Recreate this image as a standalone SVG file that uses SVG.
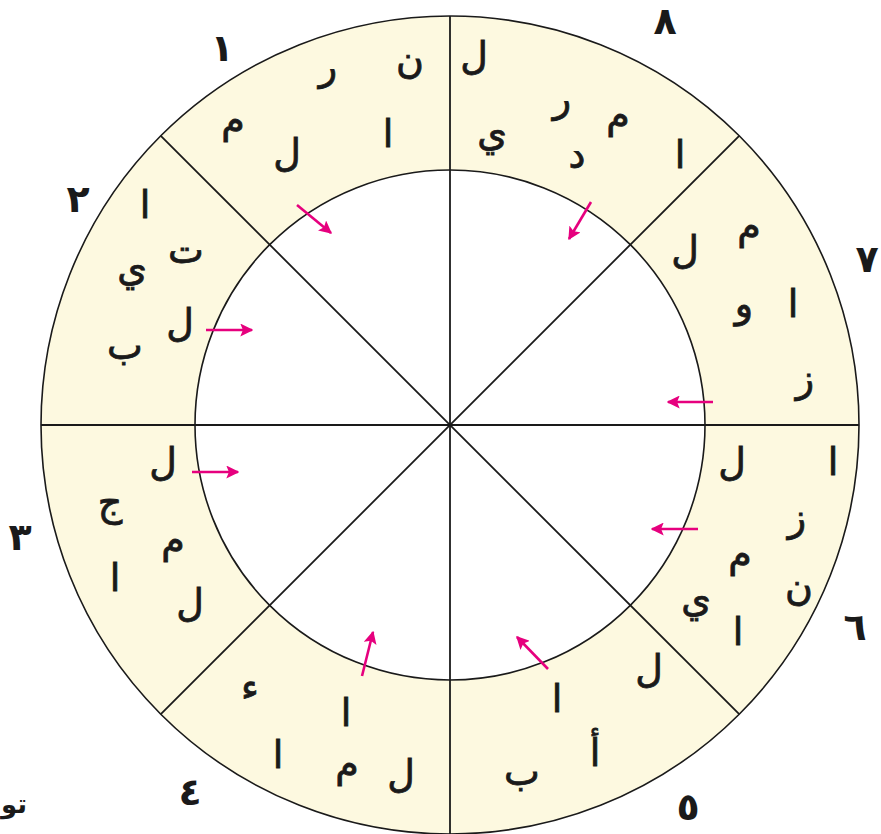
<svg xmlns="http://www.w3.org/2000/svg" width="881" height="834" viewBox="0 0 881 834">
<defs>
<marker id="ah" viewBox="0 0 10 10" refX="9" refY="5" markerWidth="5" markerHeight="5" orient="auto" markerUnits="strokeWidth">
<path d="M0,0 L10,5 L0,10 L2,5 Z" fill="#e6007e"/>
</marker>
<style>
.ring{fill:#fdf9e0;fill-rule:evenodd;stroke:#1a1a1a;stroke-width:1.6}
.div{stroke:#1a1a1a;stroke-width:1.8;fill:none}
.arr{stroke:#e6007e;stroke-width:2.6;fill:none;marker-end:url(#ah)}
.l{font-family:"DejaVu Sans",sans-serif;font-size:38px;font-weight:normal;fill:#1a1a1a;text-anchor:middle;stroke:#1a1a1a;stroke-width:0.8}
.n{font-family:"DejaVu Sans",sans-serif;font-size:38px;font-weight:bold;fill:#1a1a1a;text-anchor:middle}
</style>
</defs>
<rect width="881" height="834" fill="#ffffff"/>
<g id="ring">
<path class="ring" d="M41,425 A409,409 0 1,0 859,425 A409,409 0 1,0 41,425 Z M195,425 A255,255 0 1,1 705,425 A255,255 0 1,1 195,425 Z"/>
</g>
<g id="connectors">
<line class="div" x1="41" y1="425" x2="859" y2="425"/>
<line class="div" x1="450" y1="16" x2="450" y2="834"/>
<line class="div" x1="160.8" y1="135.8" x2="739.2" y2="714.2"/>
<line class="div" x1="739.2" y1="135.8" x2="160.8" y2="714.2"/>
<line class="arr" x1="297" y1="205" x2="331" y2="233"/>
<line class="arr" x1="591" y1="202" x2="569" y2="239"/>
<line class="arr" x1="206" y1="330" x2="252" y2="330"/>
<line class="arr" x1="713" y1="402" x2="668" y2="402"/>
<line class="arr" x1="192" y1="472" x2="238" y2="472"/>
<line class="arr" x1="698" y1="529" x2="652" y2="529"/>
<line class="arr" x1="362" y1="676" x2="373" y2="632"/>
<line class="arr" x1="548" y1="669" x2="517" y2="637"/>
</g>
<g id="seg1">
<text class="n" x="222" y="61">١</text>
<text class="l" x="410" y="73">ن</text>
<text class="l" x="328" y="80">ر</text>
<text class="l" x="233" y="133">م</text>
<text class="l" x="388" y="147">ا</text>
<text class="l" x="287" y="166">ل</text>
</g>
<g id="seg8">
<text class="n" x="665" y="34">٨</text>
<text class="l" x="474" y="69">ل</text>
<text class="l" x="562" y="112">ر</text>
<text class="l" x="618" y="128">م</text>
<text class="l" x="492" y="146">ي</text>
<text class="l" x="577" y="168">د</text>
<text class="l" x="680" y="168">ا</text>
</g>
<g id="seg7">
<text class="n" x="867" y="272">٧</text>
<text class="l" x="749" y="239">م</text>
<text class="l" x="685" y="263">ل</text>
<text class="l" x="793" y="317">ا</text>
<text class="l" x="744" y="317">و</text>
<text class="l" x="805" y="392">ز</text>
</g>
<g id="seg2">
<text class="n" x="78" y="212">٢</text>
<text class="l" x="145" y="218">ا</text>
<text class="l" x="186" y="263">ت</text>
<text class="l" x="132" y="281">ي</text>
<text class="l" x="180" y="336">ل</text>
<text class="l" x="125" y="359">ب</text>
</g>
<g id="seg3">
<text class="n" x="20" y="550">٣</text>
<text class="l" x="163" y="475">ل</text>
<text class="l" x="110" y="515">ج</text>
<text class="l" x="173" y="553">م</text>
<text class="l" x="115" y="591">ا</text>
<text class="l" x="190" y="616">ل</text>
</g>
<g id="seg4">
<text class="n" x="190" y="805">٤</text>
<text class="l" x="250" y="700">ء</text>
<text class="l" x="346" y="726">ا</text>
<text class="l" x="278" y="768">ا</text>
<text class="l" x="347" y="777">م</text>
<text class="l" x="401" y="787">ل</text>
</g>
<g id="seg5">
<text class="n" x="688" y="820">٥</text>
<text class="l" x="649" y="682">ل</text>
<text class="l" x="557" y="712">ا</text>
<text class="l" x="595" y="766">أ</text>
<text class="l" x="522" y="785">ب</text>
</g>
<g id="seg6">
<text class="n" x="855" y="640">٦</text>
<text class="l" x="833" y="475">ا</text>
<text class="l" x="732" y="475">ل</text>
<text class="l" x="797" y="531">ز</text>
<text class="l" x="740" y="567">م</text>
<text class="l" x="799" y="600">ن</text>
<text class="l" x="696" y="612">ي</text>
<text class="l" x="738" y="645">ا</text>
</g>
<g id="footer">
<text x="27" y="813" style="font-family:'DejaVu Sans',sans-serif;font-size:26px;font-weight:bold;fill:#1a1a1a;text-anchor:end">تو</text>
</g>
</svg>
